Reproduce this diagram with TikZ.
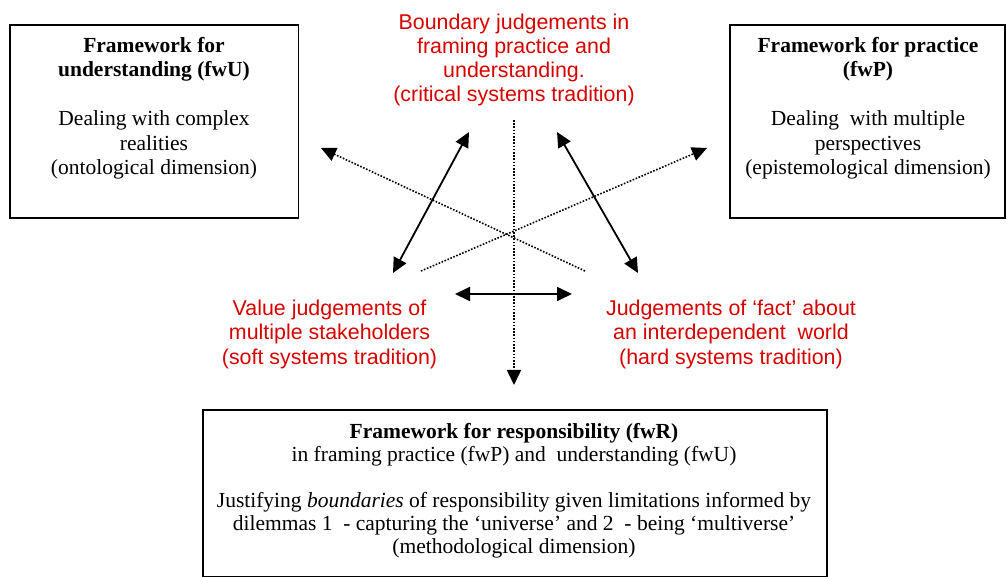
\documentclass[tikz,border=0pt]{standalone}
\usepackage{fontspec}
\setmainfont{Liberation Serif}
\newfontfamily\judgeFont{Liberation Sans}
\usetikzlibrary{arrows.meta}
\definecolor{judgeRed}{RGB}{215,0,0}
\newcommand{\boxFont}{\fontsize{21.5}{24.5}\selectfont}
\newcommand{\judgeSize}{\judgeFont\fontsize{21.4}{24.2}\selectfont}
\newcommand{\tipLength}{15pt}
\newcommand{\tipWidth}{14pt}
\newcommand{\frameWidth}{1.5pt}

\begin{document}
\begin{tikzpicture}[x=1pt, y=-1pt,
    frame/.style={draw, line width=\frameWidth, inner sep=0pt},
    boxlabel/.style={anchor=base, align=center, inner sep=0pt, font=\boxFont},
    judgement/.style={anchor=base, align=center, inner sep=0pt, text=judgeRed, font=\judgeSize},
    link/.style={{Triangle[length=\tipLength,width=\tipWidth]}-{Triangle[length=\tipLength,width=\tipWidth]}, line width=1.8pt},
    hint/.style={-{Triangle[length=\tipLength,width=\tipWidth]}, line width=1.6pt, dash pattern=on 1.6pt off 1.6pt}]
\useasboundingbox (0,0) rectangle (1007,577);

% frameworks
\node[frame, minimum width=288.5pt, minimum height=193pt] (fwU) at (154,121.5) {};
\node[frame, minimum width=275pt, minimum height=193pt] (fwP) at (867.5,121.5) {};
\node[frame, minimum width=624pt, minimum height=167pt] (fwR) at (515,493.5) {};

% base anchor sits on the last line
\node[boxlabel] (fwUtext) at (154,175) {\textbf{Framework for}\\\textbf{understanding (fwU)}\\[24.5pt]
  Dealing with complex\\realities\\(ontological dimension)};
\node[boxlabel] (fwPtext) at (868,175) {\textbf{Framework for practice}\\\textbf{(fwP)}\\[24.5pt]
  Dealing\ \ with multiple\\perspectives\\(epistemological dimension)};
\node[boxlabel, font=\fontsize{21.5}{23}\selectfont] (fwRtext) at (514,553) {\textbf{Framework for responsibility (fwR)}\\
  in framing practice (fwP) and\ \ understanding (fwU)\\[23pt]
  Justifying \emph{boundaries} of responsibility given limitations informed by\\
  dilemmas 1\ \ - capturing the ‘universe’ and 2\ \ - being ‘multiverse’\\
  (methodological dimension)};

% judgements
\node[judgement] (boundaryJudge) at (514,102) {Boundary judgements in\\framing practice and\\understanding.\\(critical systems tradition)};
\node[judgement] (valueJudge) at (329.5,364) {Value judgements of\\multiple stakeholders\\(soft systems tradition)};
\node[judgement] (factJudge) at (731,364) {Judgements of ‘fact’ about\\an interdependent\ \ world\\(hard systems tradition)};

\coordinate (critLeft) at (469,132);
\coordinate (critRight) at (557,132);
\coordinate (softUp) at (393,273);
\coordinate (hardUp) at (638,273);
\coordinate (softSide) at (455,294);
\coordinate (hardSide) at (572,294);
\coordinate (axisTop) at (514,120);
\coordinate (axisEnd) at (514,385);
\coordinate (toU) at (321,148);
\coordinate (toP) at (707,148);
\coordinate (fromHard) at (585,271);
\coordinate (fromSoft) at (421,271);

\draw[link] (softUp) -- (critLeft);
\draw[link] (critRight) -- (hardUp);
\draw[link] (softSide) -- (hardSide);
\draw[hint] (axisTop) -- (axisEnd);
\draw[hint] (fromHard) -- (toU);
\draw[hint] (fromSoft) -- (toP);
\end{tikzpicture}
\end{document}
